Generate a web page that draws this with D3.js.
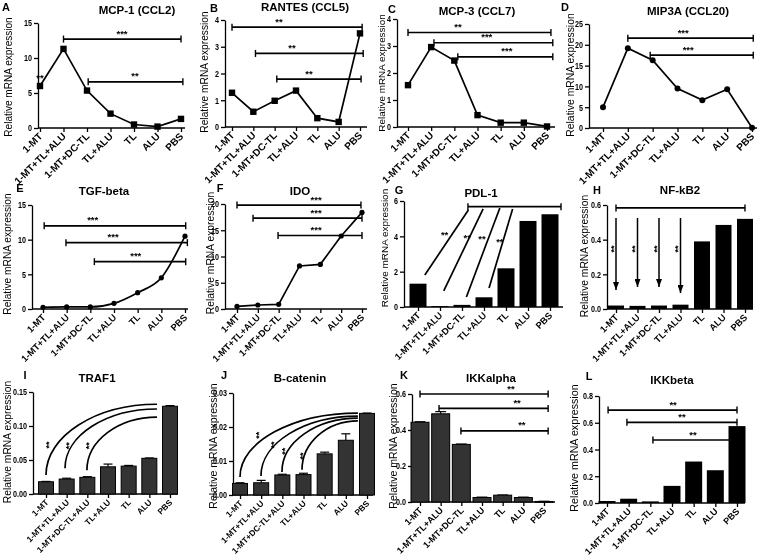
<!DOCTYPE html>
<html><head><meta charset="utf-8">
<script src="https://cdn.jsdelivr.net/npm/d3@7"></script>
<style>body{margin:0;background:#fff}svg{display:block;will-change:transform}text{font-family:"Liberation Sans",Arial,sans-serif;-webkit-font-smoothing:antialiased}</style>
</head><body><svg id="c" width="760" height="557"></svg>
<script>
// ---------- DATA ----------
const categories = ["1-MT","1-MT+TL+ALU","1-MT+DC-TL","TL+ALU","TL","ALU","PBS"];
const categoriesIJ = ["1-MT","1-MT+TL+ALU","1-MT+DC-TL+ALU","TL+ALU","TL","ALU","PBS"];

const mcp1   = [6.0, 11.3, 5.35, 2.05, 0.5, 0.2, 1.3];
const rantes = [1.28, 0.57, 0.98, 1.36, 0.33, 0.19, 3.5];
const mcp3   = [1.55, 2.96, 2.46, 0.44, 0.16, 0.16, 0.02];
const mip3a  = [5.0, 19.2, 16.3, 9.5, 6.7, 9.3, 0.05];
const tgfb   = [0.25, 0.3, 0.3, 0.82, 2.36, 4.5, 10.5];
const ido    = [0.5, 0.76, 0.89, 8.2, 8.5, 13.9, 18.4];
const pdl1   = [1.32, 0.05, 0.12, 0.55, 2.19, 4.87, 5.25];
const nfkb2  = [0.02, 0.018, 0.02, 0.025, 0.39, 0.485, 0.52];
const traf1  = [0.018, 0.022, 0.0245, 0.040, 0.041, 0.0525, 0.129];
const traf1Err = [0.0005, 0.0012, 0.001, 0.004, 0.001, 0.0005, 0.001];
const bcat   = [0.0034, 0.0036, 0.0059, 0.0060, 0.0121, 0.0161, 0.0240];
const bcatErr = [0.0002, 0.0007, 0.0002, 0.0004, 0.0005, 0.0019, 0.0001];
const ikka   = [0.443, 0.49, 0.32, 0.025, 0.038, 0.025, 0.003];
const ikkaErr = [0.003, 0.012, 0.002, 0.002, 0.001, 0.002, 0.001];
const ikkb   = [0.015, 0.032, 0.012, 0.128, 0.31, 0.245, 0.575];

const ticksA = [0,5,10,15], ticksB = [0,1,2,3,4], ticksC = [0,1,2,3,4], ticksD = [0,5,10,15,20,25];
const ticksE = [0,5,10,15], ticksF = [0,5,10,15,20], ticksG = [0,2,4,6], ticksH = [0,0.2,0.4,0.6];
const ticksI = [0,0.05,0.10,0.15], ticksJ = [0,0.01,0.02,0.03], ticksK = [0,0.2,0.4,0.6], ticksL = [0,0.2,0.4,0.6,0.8];

// significance brackets: [fromIndex, toIndex, value, label, labelIndex]
const bracketsA = [[1,6,12.7,"***",3.49],[2.05,6.08,6.6,"**",4.04]];
const bracketsB = [[0,6.1,3.73,"**",2.2],[1.1,6.15,2.75,"**",2.81],[2.1,6.05,1.79,"**",3.61]];
const bracketsC = [[0,6.17,3.5,"**",2.16],[1.12,6.25,3.12,"***",3.4],[2.15,6.25,2.6,"***",4.27]];
const bracketsD = [[1,6.05,21.6,"***",3.23],[1.9,6.05,17.5,"***",3.43]];
const bracketsE = [[0.05,6.03,12.0,"***",2.1],[0.97,6.1,9.57,"***",2.96],[2.17,6.03,6.83,"***",3.92]];
const bracketsF = [[0,5.95,19.8,"***",3.8],[0.77,6,17.3,"***",3.8],[1.97,6,14.0,"***",3.8]];
const bracketsG = [[2.27,6.5,5.68,"",0]];
const bracketsH = [[0,6,0.583,"",0]];
const bracketsK = [[0,6.2,0.6,"**",4.4],[0.92,6.2,0.52,"**",4.7],[1.98,6.2,0.395,"**",4.93]];
const bracketsL = [[0.05,6,0.695,"**",3.05],[0.92,6,0.603,"**",3.46],[2.12,6,0.471,"**",3.97]];

// free annotation texts: [index, value, label]
const textsA = [[0,7.4,"**"]];
const textsG = [[1.21,4.19,"**"],[2.24,4.02,"**"],[2.91,3.96,"**"],[3.72,3.79,"**"]];
const textsH = [[-0.2,0.346,"**"],[0.8,0.346,"**"],[1.8,0.346,"**"],[2.8,0.346,"**"]];
const textsI = [[0.03,0.072,"**"],[1.0,0.071,"**"],[2.0,0.071,"**"]];
const textsJ = [[0.8,0.0176,"**"],[1.51,0.0147,"**"],[2.03,0.0129,"**"],[2.88,0.0115,"**"]];
// straight annotation lines [i0, v0, i1, v1]
const linesG = [[0.31,1.81,2.29,5.49],[1.17,0.91,2.96,5.55],[2.2,0.57,3.72,5.6],[3.23,1.08,4.3,5.55]];
// arrows [index, fromValue, toValue]
const arrowsH = [[0,0.525,0.11],[1,0.525,0.127],[2,0.525,0.127],[3,0.525,0.092]];
// arcs [i0, v0, i1, v1]
const arcsI = [[0,0.028,5.37,0.132],[0.92,0.038,5.37,0.125],[1.98,0.035,5.37,0.113]];
const arcsJ = [[0,0.0053,5.57,0.0241],[0.99,0.0056,5.57,0.0232],[1.98,0.0068,5.57,0.0226],[2.93,0.0074,5.57,0.0218]];

const yLabel = "Relative mRNA expression";

const panels = [
 {id:"A", title:"MCP-1 (CCL2)", cats:categories, vals:mcp1, kind:"line", mark:"square", yMax:15, ticks:ticksA, fmt:"d", brackets:bracketsA, texts:textsA},
 {id:"B", title:"RANTES (CCL5)", cats:categories, vals:rantes, kind:"line", mark:"square", yMax:4, ticks:ticksB, fmt:"d", brackets:bracketsB},
 {id:"C", title:"MCP-3 (CCL7)", cats:categories, vals:mcp3, kind:"line", mark:"square", yMax:4, ticks:ticksC, fmt:"d", brackets:bracketsC},
 {id:"D", title:"MIP3A (CCL20)", cats:categories, vals:mip3a, kind:"line", mark:"circle", yMax:25, ticks:ticksD, fmt:"d", brackets:bracketsD},
 {id:"E", title:"TGF-beta", cats:categories, vals:tgfb, kind:"line", mark:"circle", smooth:true, yMax:15, ticks:ticksE, fmt:"d", brackets:bracketsE},
 {id:"F", title:"IDO", cats:categories, vals:ido, kind:"line", mark:"circle", yMax:20, ticks:ticksF, fmt:"d", brackets:bracketsF},
 {id:"G", title:"PDL-1", cats:categories, vals:pdl1, kind:"bar", yMax:6, ticks:ticksG, fmt:"d", brackets:bracketsG, texts:textsG, lines:linesG},
 {id:"H", title:"NF-kB2", cats:categories, vals:nfkb2, kind:"bar", yMax:0.6, ticks:ticksH, fmt:".1f", brackets:bracketsH, texts:textsH, arrows:arrowsH},
 {id:"I", title:"TRAF1", cats:categoriesIJ, vals:traf1, errs:traf1Err, kind:"bar", yMax:0.15, ticks:ticksI, fmt:".2f", texts:textsI, arcs:arcsI},
 {id:"J", title:"B-catenin", cats:categoriesIJ, vals:bcat, errs:bcatErr, kind:"bar", yMax:0.03, ticks:ticksJ, fmt:".2f", texts:textsJ, arcs:arcsJ},
 {id:"K", title:"IKKalpha", cats:categories, vals:ikka, errs:ikkaErr, kind:"bar", yMax:0.6, ticks:ticksK, fmt:".1f", brackets:bracketsK},
 {id:"L", title:"IKKbeta", cats:categories, vals:ikkb, kind:"bar", yMax:0.8, ticks:ticksL, fmt:".1f", brackets:bracketsL}
];

// ---------- LAYOUT ----------
const layout = {
 A:{ax:38,x1:40,x2:181,xe:185,yt:23,yb:128,title:[137,14],letter:[6,11],ylab:[8,77,120],tfs:10},
 B:{ax:225,x1:232,x2:360,xe:367,yt:20,yb:127,title:[305,11],letter:[214,12],ylab:[204,72,122],tfs:10},
 C:{ax:397,x1:408,x2:547,xe:555,yt:19,yb:127,title:[477,15],letter:[392,13],ylab:[382,73,118],tfs:10},
 D:{ax:589,x1:603,x2:752,xe:757,yt:24,yb:128,title:[688,15],letter:[565,11],ylab:[570,75,124],tfs:10,r:3},
 E:{ax:32,x1:43,x2:185,xe:188,yt:205,yb:309,title:[104,195],letter:[20,192],ylab:[7,254,122],tfs:9.3,r:2.6},
 F:{ax:225,x1:237,x2:362,xe:367,yt:204,yb:309,title:[300,195],letter:[220,192],ylab:[210,253,123],tfs:9.3,r:2.6},
 G:{ax:404,x1:418,x2:550,xe:563,yt:201,yb:307,title:[481,197],letter:[399,194],ylab:[384,248,119],tfs:9.3,bw:17,fill:"#000"},
 H:{ax:607,x1:616,x2:745,xe:753,yt:205,yb:309,title:[680,194],letter:[597,194],ylab:[584,256,123],tfs:9.3,bw:16,fill:"#000",vert:true},
 I:{ax:33,x1:46,x2:170,xe:178,yt:392,yb:494,title:[97,382],letter:[25,379],ylab:[7,442,123],tfs:8.3,bw:15,fill:"#333",vert:true},
 J:{ax:233,x1:240,x2:367,xe:373,yt:393,yb:495,title:[300,382],letter:[224,379],ylab:[213,446,126],tfs:8.3,bw:15,fill:"#333",vert:true},
 K:{ax:412,x1:420,x2:544,xe:555,yt:394,yb:502,title:[491,382],letter:[404,379],ylab:[393,446,126],tfs:9,bw:18,fill:"#333"},
 L:{ax:599,x1:607,x2:737,xe:745,yt:396,yb:503,title:[672,384],letter:[589,380],ylab:[574,448,128],tfs:9,bw:17,fill:"#000"}
};

// ---------- DRAW ----------
const svg = d3.select("#c");
const defs = svg.append("defs");
defs.append("marker").attr("id","arr").attr("viewBox","0 0 8 6").attr("refX",8).attr("refY",3)
  .attr("markerWidth",8).attr("markerHeight",6).attr("markerUnits","userSpaceOnUse").attr("orient","auto")
  .append("path").attr("d","M0,0 L8,3 L0,6 Z").attr("fill","#000");

const AX_W = 1.3;

panels.forEach(p => {
  const L = layout[p.id];
  const g = svg.append("g");
  const x = d3.scalePoint().domain(p.cats).range([L.x1, L.x2]);
  const xi = i => L.x1 + i * x.step();
  const y = d3.scaleLinear().domain([0, p.yMax]).range([L.yb, L.yt]);

  // y axis
  const ya = g.append("g").attr("transform", `translate(${L.ax},0)`)
    .call(d3.axisLeft(y).tickValues(p.ticks).tickFormat(d3.format(p.fmt)).tickSize(4).tickSizeOuter(0).tickPadding(2));
  ya.select(".domain").attr("stroke-width", AX_W);
  ya.selectAll(".tick line").attr("stroke-width", AX_W);
  ya.selectAll(".tick text").attr("font-size", 9).attr("font-weight","bold").attr("font-family",'"Liberation Sans",Arial,sans-serif')
    .each(function(){ const w = this.getComputedTextLength(); d3.select(this).attr("textLength", (w*0.8).toFixed(2)).attr("lengthAdjust","spacingAndGlyphs"); });

  // x axis
  const xa = g.append("g").attr("transform", `translate(0,${L.yb})`)
    .call(d3.axisBottom(x).tickSize(4).tickSizeOuter(0));
  xa.select(".domain").remove();
  xa.selectAll(".tick line").attr("stroke-width", AX_W);
  xa.selectAll(".tick text").remove();
  g.append("line").attr("x1", L.ax).attr("x2", L.xe).attr("y1", L.yb).attr("y2", L.yb)
    .attr("stroke","#000").attr("stroke-width", AX_W);
  p.cats.forEach(c => {
    g.append("text").attr("transform", `translate(${x(c)+3},${L.yb+9}) rotate(-45)`)
      .attr("text-anchor","end").attr("font-size", L.tfs).attr("font-weight","bold").text(c);
  });

  // data marks
  if (p.kind === "line") {
    const line = d3.line().x((d,i) => x(p.cats[i])).y(d => y(d));
    if (p.smooth) line.curve(d3.curveMonotoneX);
    g.append("path").attr("d", line(p.vals)).attr("fill","none").attr("stroke","#000").attr("stroke-width",1.7);
    p.vals.forEach((v,i) => {
      if (p.mark === "square") {
        g.append("rect").attr("x", x(p.cats[i]) - 3.2).attr("y", y(v) - 3.2).attr("width",6.4).attr("height",6.4).attr("fill","#000");
      } else {
        g.append("circle").attr("cx", x(p.cats[i])).attr("cy", y(v)).attr("r", L.r).attr("fill","#000");
      }
    });
  } else {
    p.vals.forEach((v,i) => {
      const cx = x(p.cats[i]);
      if (p.errs) {
        const e = p.errs[i];
        g.append("line").attr("x1",cx).attr("x2",cx).attr("y1",y(v)).attr("y2",y(v+e)).attr("stroke","#000").attr("stroke-width",1.2);
        g.append("line").attr("x1",cx-L.bw*0.3).attr("x2",cx+L.bw*0.3).attr("y1",y(v+e)).attr("y2",y(v+e)).attr("stroke","#000").attr("stroke-width",1.2);
      }
      g.append("rect").attr("x", cx - L.bw/2).attr("y", y(v)).attr("width", L.bw).attr("height", Math.max(0.8, L.yb - y(v)))
        .attr("fill", L.fill).attr("stroke","#000").attr("stroke-width", L.fill === "#000" ? 0 : 1);
    });
  }

  // brackets
  (p.brackets || []).forEach(b => {
    const x0 = xi(b[0]), x1 = xi(b[1]), yy = y(b[2]);
    g.append("line").attr("x1",x0).attr("x2",x1).attr("y1",yy).attr("y2",yy).attr("stroke","#000").attr("stroke-width",1.7);
    [x0,x1].forEach(xx => g.append("line").attr("x1",xx).attr("x2",xx).attr("y1",yy-3.5).attr("y2",yy+3.5).attr("stroke","#000").attr("stroke-width",1.4));
    if (b[3]) g.append("text").attr("x", xi(b[4])).attr("y", yy - 2.5).attr("text-anchor","middle")
      .attr("font-size",9.5).attr("font-weight","bold").attr("fill","#000").text(b[3]);
  });

  // straight annotation lines
  (p.lines || []).forEach(l => {
    g.append("line").attr("x1",xi(l[0])).attr("y1",y(l[1])).attr("x2",xi(l[2])).attr("y2",y(l[3]))
      .attr("stroke","#000").attr("stroke-width",1.7);
  });

  // arrows
  (p.arrows || []).forEach(a => {
    g.append("line").attr("x1",xi(a[0])).attr("x2",xi(a[0])).attr("y1",y(a[1])).attr("y2",y(a[2]))
      .attr("stroke","#000").attr("stroke-width",1.5).attr("marker-end","url(#arr)");
  });

  // arcs (quarter ellipse)
  (p.arcs || []).forEach(a => {
    const X0 = xi(a[0]), Y0 = y(a[1]), X1 = xi(a[2]), Y1 = y(a[3]), k = 0.5523;
    const path = d3.path();
    path.moveTo(X0, Y0);
    path.bezierCurveTo(X0, Y0 + k*(Y1-Y0), X1 - k*(X1-X0), Y1, X1, Y1);
    g.append("path").attr("d", path.toString()).attr("fill","none").attr("stroke","#000").attr("stroke-width",1.7);
  });

  // free texts
  (p.texts || []).forEach(t => {
    const tx = xi(t[0]), ty = y(t[1]);
    if (L.vert) {
      g.append("text").attr("transform",`translate(${tx},${ty}) rotate(-90)`).attr("text-anchor","middle")
        .attr("dy","0.55em").attr("font-size",9).attr("font-weight","bold").attr("fill","#000").text(t[2]);
    } else {
      g.append("text").attr("x",tx).attr("y",ty).attr("dy","0.55em").attr("text-anchor","middle")
        .attr("font-size",9.5).attr("font-weight","bold").attr("fill","#000").text(t[2]);
    }
  });

  // titles, letters, y label
  g.append("text").attr("x",L.title[0]).attr("y",L.title[1]).attr("text-anchor","middle")
    .attr("font-size",11.5).attr("font-weight","bold").text(p.title);
  g.append("text").attr("x",L.letter[0]).attr("y",L.letter[1]).attr("text-anchor","middle")
    .attr("font-size",11).attr("font-weight","bold").text(p.id);
  g.append("text").attr("transform",`translate(${L.ylab[0]},${L.ylab[1]}) rotate(-90)`)
    .attr("text-anchor","middle").attr("dy","0.35em").attr("font-size", (L.ylab[2] / 11.95).toFixed(2))
    .text(yLabel);
});
</script>
</body></html>
